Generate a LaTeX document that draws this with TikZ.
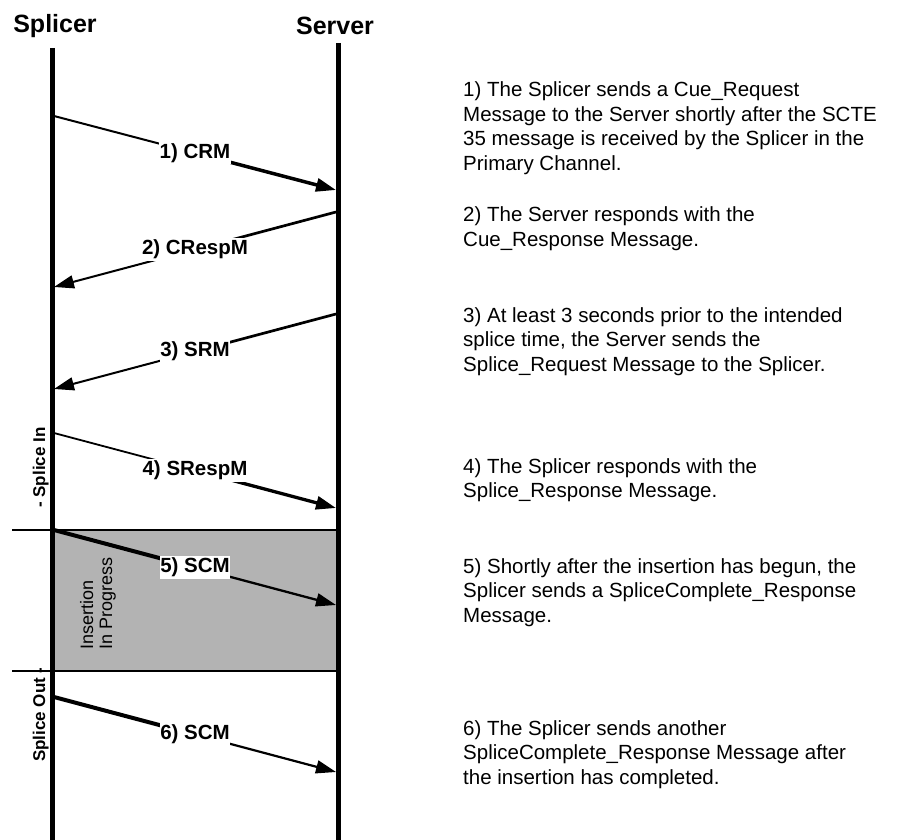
\documentclass[tikz,border=0pt]{standalone}
\usepackage{fontspec}
\setmainfont{Liberation Sans}
\usetikzlibrary{arrows.meta,calc}
\definecolor{insgray}{HTML}{B3B3B3}
\begin{document}
\begin{tikzpicture}[x=1pt,y=-1pt,
  lifeline/.style={line width=5pt},
  sepline/.style={line width=1.8pt},
  msg/.style={font=\fontsize{20.5}{24}\selectfont\bfseries, fill=white, inner xsep=0.5pt, inner ysep=1.5pt},
  head/.style={font=\fontsize{25}{30}\selectfont\bfseries, anchor=base, inner sep=0pt},
  note/.style={font=\fontsize{20.5}{24.5}\selectfont, anchor=base west, inner sep=0pt},
  side/.style={font=\fontsize{17}{20}\selectfont\bfseries, rotate=90, anchor=base west, inner sep=0pt},
  insl/.style={font=\fontsize{18}{19}\selectfont, rotate=90, anchor=base west, inner sep=0pt},
  tipend/.style={-{Triangle[length=20pt,width=13pt]}},
]
\useasboundingbox (0,0) rectangle (900,840);

% insertion area
\coordinate (r1) at (52,530);
\coordinate (r2) at (338,671);
\fill[insgray] (r1) rectangle (r2);

% lifelines
\coordinate (spT) at (52,48);
\coordinate (spB) at (52,840);
\coordinate (svT) at (338.5,43);
\coordinate (svB) at (338.5,840);
\draw[lifeline] (spT) -- (spB);
\draw[lifeline] (svT) -- (svB);

% separator lines
\coordinate (h1a) at (12,530); \coordinate (h1b) at (338,530);
\coordinate (h2a) at (12,671); \coordinate (h2b) at (338,671);
\draw[sepline] (h1a) -- (h1b);
\draw[sepline] (h2a) -- (h2b);

% headings
\node[head] (splicer) at (55,33) {Splicer};
\node[head] (server) at (335,35) {Server};

% message 1
\coordinate (a1) at (54,116); \coordinate (b1) at (336,190);
\coordinate (c1) at ($(a1)!0.5!(b1)$);
\draw[line width=2pt] (a1) -- (c1);
\draw[line width=3.5pt,tipend] (c1) -- (b1);
\node[msg] (m1) at (c1) {1) CRM};

% message 2
\coordinate (a2) at (336,212); \coordinate (b2) at (54,287);
\coordinate (c2) at ($(a2)!0.5!(b2)$);
\draw[line width=2.7pt] (a2) -- (c2);
\draw[line width=2pt,tipend] (c2) -- (b2);
\node[msg] (m2) at (c2) {2) CRespM};

% message 3
\coordinate (a3) at (336,314); \coordinate (b3) at (54,389);
\coordinate (c3) at ($(a3)!0.5!(b3)$);
\draw[line width=2.7pt] (a3) -- (c3);
\draw[line width=2pt,tipend] (c3) -- (b3);
\node[msg] (m3) at (c3) {3) SRM};

% message 4
\coordinate (a4) at (54,433); \coordinate (b4) at (336,508);
\coordinate (c4) at ($(a4)!0.5!(b4)$);
\draw[line width=1.8pt] (a4) -- (c4);
\draw[line width=3.3pt,tipend] (c4) -- (b4);
\node[msg] (m4) at (c4) {4) SRespM};

% message 5
\coordinate (a5) at (54,530); \coordinate (b5) at (336,605);
\coordinate (c5) at ($(a5)!0.5!(b5)$);
\draw[line width=4pt] (a5) -- (c5);
\draw[line width=2.3pt,tipend] (c5) -- (b5);
\node[msg] (m5) at (c5) {5) SCM};

% message 6
\coordinate (a6) at (54,697); \coordinate (b6) at (336,772);
\coordinate (c6) at ($(a6)!0.5!(b6)$);
\draw[line width=4pt] (a6) -- (c6);
\draw[line width=2.2pt,tipend] (c6) -- (b6);
\node[msg] (m6) at (c6) {6) SCM};

% side labels
\node[side] (spin) at (45,508) {- Splice In};
\node[side] (spout) at (45,762) {Splice Out -};
\node[insl] (ins1) at (93,650) {Insertion};
\node[insl] (ins2) at (112,650) {In Progress};

% notes
\node[note] (t1) at (463,97) {\begin{tabular}[t]{@{}l@{}}1) The Splicer sends a Cue\_Request\\Message to the Server shortly after the SCTE\\35 message is received by the Splicer in the\\Primary Channel.\end{tabular}};
\node[note] (t2) at (463,222) {\begin{tabular}[t]{@{}l@{}}2) The Server responds with the\\Cue\_Response Message.\end{tabular}};
\node[note] (t3) at (463,322) {\begin{tabular}[t]{@{}l@{}}3) At least 3 seconds prior to the intended\\splice time, the Server sends the\\Splice\_Request Message to the Splicer.\end{tabular}};
\node[note] (t4) at (463,473) {\begin{tabular}[t]{@{}l@{}}4) The Splicer responds with the\\Splice\_Response Message.\end{tabular}};
\node[note] (t5) at (463,573) {\begin{tabular}[t]{@{}l@{}}5) Shortly after the insertion has begun, the\\Splicer sends a SpliceComplete\_Response\\Message.\end{tabular}};
\node[note] (t6) at (463,735) {\begin{tabular}[t]{@{}l@{}}6) The Splicer sends another\\SpliceComplete\_Response Message after\\the insertion has completed.\end{tabular}};
\end{tikzpicture}
\end{document}
